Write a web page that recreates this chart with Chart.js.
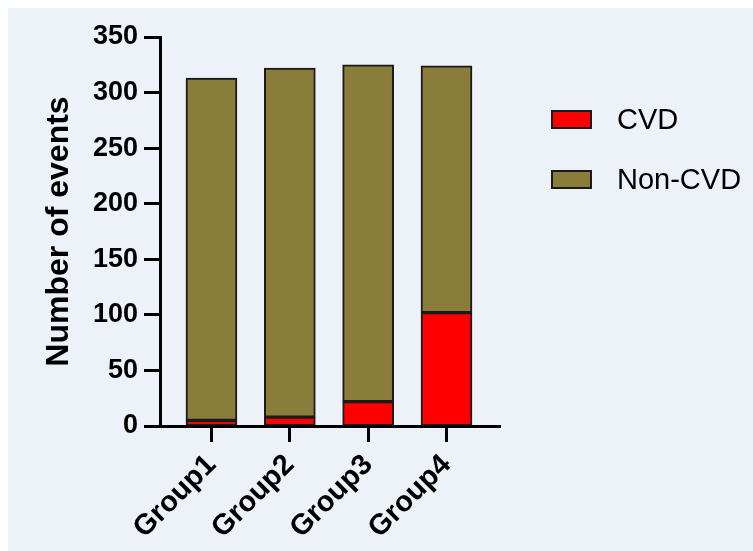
<!DOCTYPE html>
<html>
<head>
<meta charset="utf-8">
<script src="https://cdn.jsdelivr.net/npm/chart.js@4.4.1/dist/chart.umd.min.js"></script>
<style>
    html, body { margin: 0; padding: 0; background: #ffffff; }
    #wrap { position: relative; width: 753px; height: 551px; overflow: hidden; }
    #panel { position: absolute; left: 8px; top: 8px; right: 0; bottom: 0; background: #edf1f8; }
    #events-chart { position: absolute; left: 0; top: 0; }
    #legend { position: absolute; left: 551px; top: 110px; margin: 0; padding: 0; list-style: none;
              font-family: 'Liberation Sans', Arial, sans-serif; font-size: 29px; color: #000; }
    #legend li { display: flex; align-items: center; height: 19px; margin-bottom: 41px; white-space: nowrap; }
    #legend .swatch { width: 37px; height: 15px; border: 2px solid #1a1a1a; margin-right: 25px; }
</style>
</head>
<body>
<div id="wrap">
    <div id="panel"></div>
    <canvas id="events-chart" width="753" height="551"></canvas>
    <ul id="legend"></ul>
</div>
<script>
const groups = ['Group1', 'Group2', 'Group3', 'Group4'];
const cvdCounts = [5, 8, 22, 102];
const nonCvdCounts = [308, 314, 303, 222];
const yTicks = [0, 50, 100, 150, 200, 250, 300, 350];

const FONT = "'Liberation Sans', Arial, sans-serif";
Chart.defaults.color = '#000';
Chart.defaults.font.family = FONT;

const toPoints = values => values.map((v, i) => ({ x: i, y: v }));

const chart = new Chart(document.getElementById('events-chart'), {
    type: 'bar',
    data: {
        datasets: [{
            label: 'CVD',
            data: toPoints(cvdCounts),
            backgroundColor: '#ff0000',
            borderColor: '#1a1a1a',
            borderWidth: 2,
            borderSkipped: false
        }, {
            label: 'Non-CVD',
            data: toPoints(nonCvdCounts),
            backgroundColor: '#8a7d3b',
            borderColor: '#1a1a1a',
            borderWidth: 2,
            borderSkipped: false
        }]
    },
    options: {
        responsive: false,
        animation: false,
        layout: { padding: { left: 0, top: 37, right: 253, bottom: 0 } },
        datasets: { bar: { barThickness: 51 } },
        plugins: {
            legend: { display: false },
            tooltip: { enabled: false }
        },
        scales: {
            x: {
                type: 'linear',
                stacked: true,
                offset: false,
                min: -0.657,
                max: 3.683,
                afterBuildTicks: scale => {
                    scale.ticks = groups.map((_, i) => ({ value: i }));
                },
                afterFit: scale => { scale.height = 125; },
                ticks: {
                    autoSkip: false,
                    minRotation: 45,
                    maxRotation: 45,
                    padding: 6,
                    font: { size: 29, weight: 'bold' },
                    callback: v => groups[v]
                },
                grid: {
                    offset: false,
                    drawOnChartArea: false,
                    drawTicks: true,
                    tickLength: 16,
                    tickWidth: 3,
                    tickColor: '#000'
                },
                border: { color: '#000', width: 3 }
            },
            y: {
                stacked: true,
                min: 0,
                max: 350,
                afterBuildTicks: scale => {
                    scale.ticks = yTicks.map(v => ({ value: v }));
                },
                afterFit: scale => { scale.width = 160; },
                ticks: {
                    padding: 6,
                    font: { size: 27, weight: 'bold' }
                },
                grid: {
                    drawOnChartArea: false,
                    drawTicks: true,
                    tickLength: 16,
                    tickWidth: 3,
                    tickColor: '#000'
                },
                border: { color: '#000', width: 3 },
                title: {
                    display: true,
                    text: 'Number of events',
                    padding: { top: 40, bottom: 0 },
                    font: { size: 32, weight: 'bold' }
                }
            }
        }
    }
});

// legend built from the chart's datasets
const legendEl = document.getElementById('legend');
chart.data.datasets.forEach(ds => {
    const li = document.createElement('li');
    const box = document.createElement('span');
    box.className = 'swatch';
    box.style.background = ds.backgroundColor;
    li.appendChild(box);
    li.appendChild(document.createTextNode(ds.label));
    legendEl.appendChild(li);
});
</script>
</body>
</html>
